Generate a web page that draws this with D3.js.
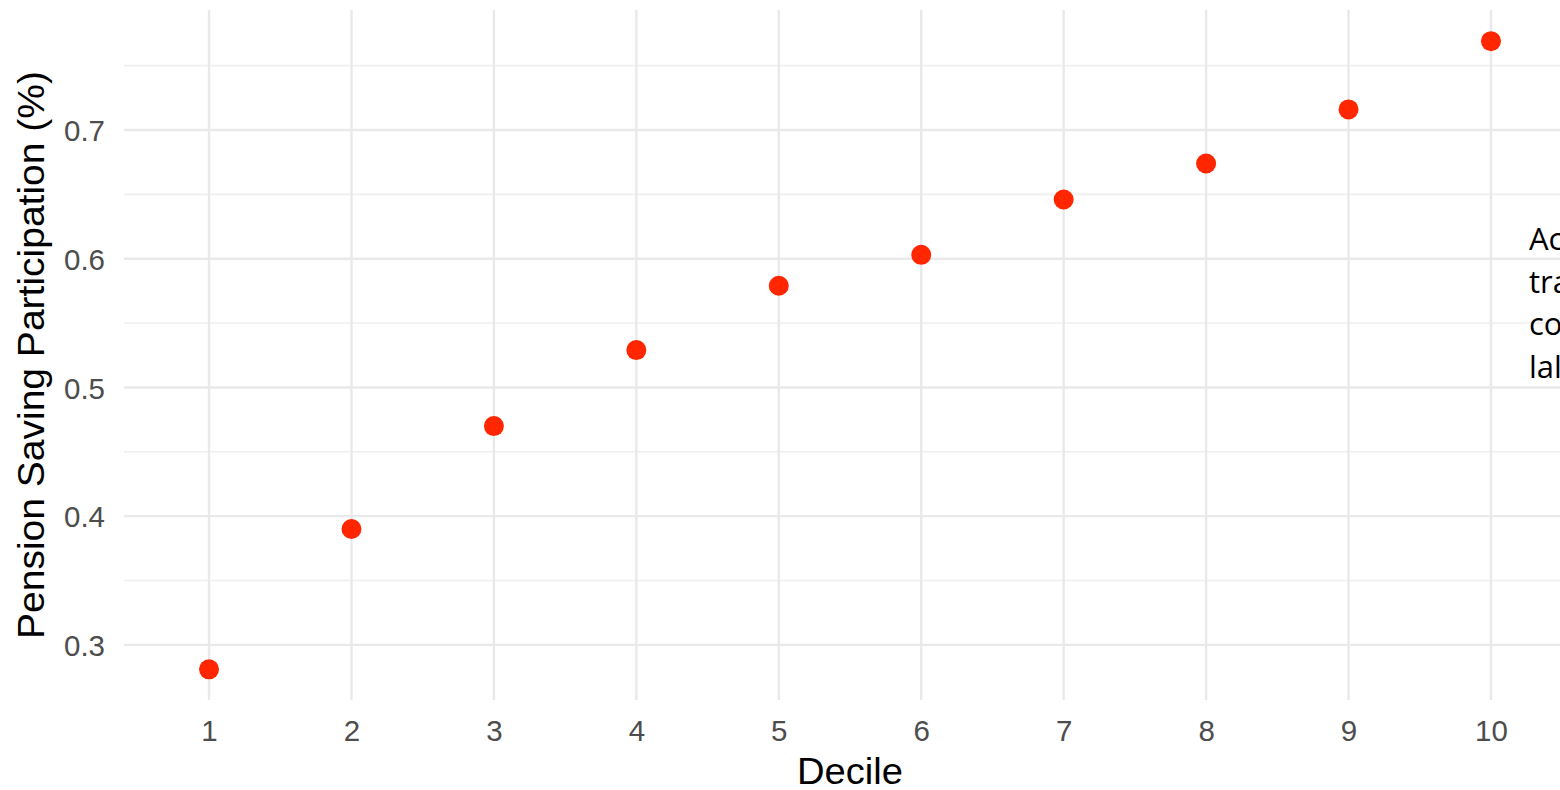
<!DOCTYPE html>
<html><head><meta charset="utf-8">
<script src="https://cdn.jsdelivr.net/npm/d3@7"></script>
<style>body{margin:0;background:#fff;overflow:hidden}</style>
</head><body>
<svg id="c" width="1560" height="790"></svg>
<script>
const deciles = [1,2,3,4,5,6,7,8,9,10];
const participation = [0.281,0.390,0.470,0.529,0.579,0.603,0.646,0.674,0.716,0.769];
const yMajorTicks = [0.3,0.4,0.5,0.6,0.7];
const yMinorTicks = [0.35,0.45,0.55,0.65,0.75];
const xTicks = [1,2,3,4,5,6,7,8,9,10];
const noteLines = ["Ac","tra","co","lal"];

const svg = d3.select("#c");
const x = d3.scaleLinear().domain([0.403,10.597]).range([124,1576]);
const y = d3.scaleLinear().domain([0.2572,0.7932]).range([700,10]);
const font = "'Liberation Sans', Arial, Helvetica, sans-serif";

const g = svg.append("g");
g.selectAll(".ymin").data(yMinorTicks).join("line")
  .attr("x1",124).attr("x2",1576).attr("y1",d=>y(d)).attr("y2",d=>y(d))
  .attr("stroke","#efefef").attr("stroke-width",1.6);
g.selectAll(".ymaj").data(yMajorTicks).join("line")
  .attr("x1",124).attr("x2",1576).attr("y1",d=>y(d)).attr("y2",d=>y(d))
  .attr("stroke","#e9e9e9").attr("stroke-width",2.4);
g.selectAll(".xmaj").data(xTicks).join("line")
  .attr("x1",d=>x(d)).attr("x2",d=>x(d)).attr("y1",10).attr("y2",700)
  .attr("stroke","#e9e9e9").attr("stroke-width",2.4);

const yAxis = svg.append("g").attr("transform","translate(124,0)")
  .call(d3.axisLeft(y).tickValues(yMajorTicks).tickFormat(d3.format(".1f")).tickSize(0).tickPadding(19));
yAxis.select(".domain").remove();
yAxis.selectAll("text").attr("font-family",font).attr("font-size",29.5).attr("fill","#4d4d4d").attr("dy","0.36em");

const xAxis = svg.append("g").attr("transform","translate(0,700)")
  .call(d3.axisBottom(x).tickValues(xTicks).tickFormat(d3.format("d")).tickSize(0).tickPadding(20));
xAxis.select(".domain").remove();
xAxis.selectAll("text").attr("font-family",font).attr("font-size",29.5).attr("fill","#4d4d4d").attr("dy","0.71em");

svg.selectAll(".pt").data(deciles).join("circle")
  .attr("cx",d=>x(d)).attr("cy",(d,i)=>y(participation[i])).attr("r",10)
  .attr("fill","#ff2600");

svg.append("text").attr("x",850).attr("y",784).attr("text-anchor","middle")
  .attr("font-family",font).attr("font-size",36).attr("fill","#000")
  .attr("textLength",106).attr("lengthAdjust","spacingAndGlyphs").text("Decile");
svg.append("text").attr("transform","translate(44,355) rotate(-90)").attr("text-anchor","middle")
  .attr("font-family",font).attr("font-size",36).attr("fill","#000")
  .attr("textLength",568).attr("lengthAdjust","spacingAndGlyphs").text("Pension Saving Participation (%)");

svg.selectAll(".note").data(noteLines).join("text")
  .attr("x",1529).attr("y",(d,i)=>250+i*42.7)
  .attr("font-family","'Open Sans', 'Noto Sans', sans-serif").attr("font-size",31).attr("fill","#000")
  .text(d=>d);
</script>
</body></html>
